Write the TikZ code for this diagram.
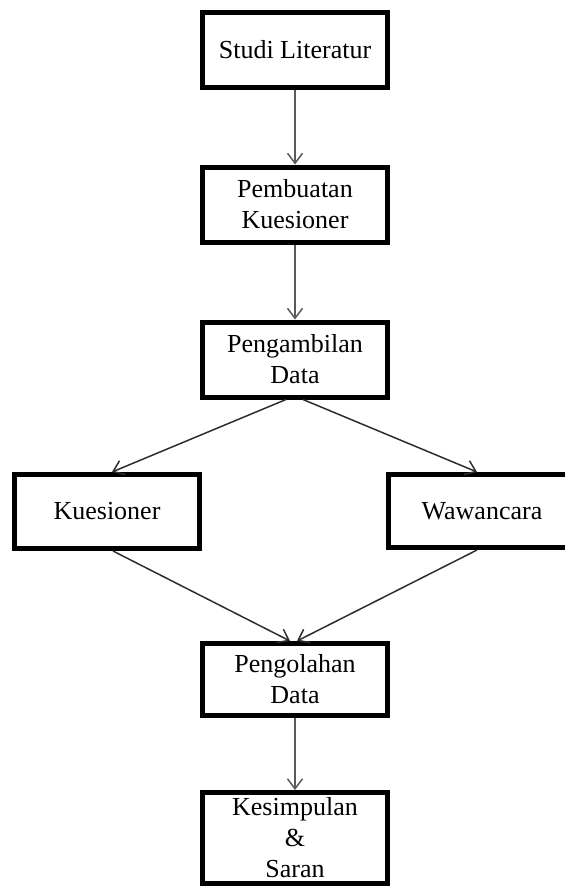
\documentclass[tikz,border=0pt]{standalone}
\usepackage{fontspec}
\setmainfont{Liberation Serif}
\usepackage{xcolor}
\usepackage{tikz}
\usetikzlibrary{arrows.meta,positioning}
\definecolor{flowInk}{HTML}{000000}
\definecolor{flowGrey}{HTML}{5A5A5A}
\definecolor{flowDark}{HTML}{2E2E2E}

\begin{document}
\begin{tikzpicture}[
  x=0.5pt,y=-0.5pt,
  font=\fontsize{13}{15.5}\selectfont,
  proc/.style={draw=flowInk,line width=2.5pt,minimum width=92.5pt,minimum height=37.5pt,align=center,fill=white,inner sep=2pt},
  arr/.style={-{Straight Barb[length=5pt,width=7.5pt]},line width=0.75pt,draw=flowGrey},
  darr/.style={arr,draw=flowDark}
]
\clip (0,0) rectangle (565,889);
\node[proc] (lit) at (295,50)     {Studi Literatur};
\node[proc] (buat) at (295,204.5) {Pembuatan\\Kuesioner};
\node[proc] (ambil) at (295,359.5) {Pengambilan\\Data};
\node[proc,minimum height=37pt] (kues) at (107,511.5) {Kuesioner};
\node[proc,minimum height=36.5pt,minimum width=93.5pt] (waw) at (482,511) {Wawancara};
\node[proc,minimum height=36pt] (olah) at (295,679.5) {Pengolahan\\Data};
\node[proc,minimum height=45.5pt] (simp) at (295,838) {Kesimpulan\\\&\\Saran};
\draw[arr] (lit) -- (buat);
\draw[arr] (buat) -- (ambil);
\draw[darr] ([xshift=-4.5pt]ambil.south) -- ([xshift=2.5pt]kues.north);
\draw[darr] ([xshift=4pt]ambil.south) -- ([xshift=-2.5pt]waw.north);
\draw[darr] ([xshift=3pt]kues.south) -- ([xshift=-2.5pt]olah.north);
\draw[darr] ([xshift=-2.5pt]waw.south) -- ([xshift=1pt]olah.north);
\draw[arr] (olah) -- (simp);
\end{tikzpicture}
\end{document}
